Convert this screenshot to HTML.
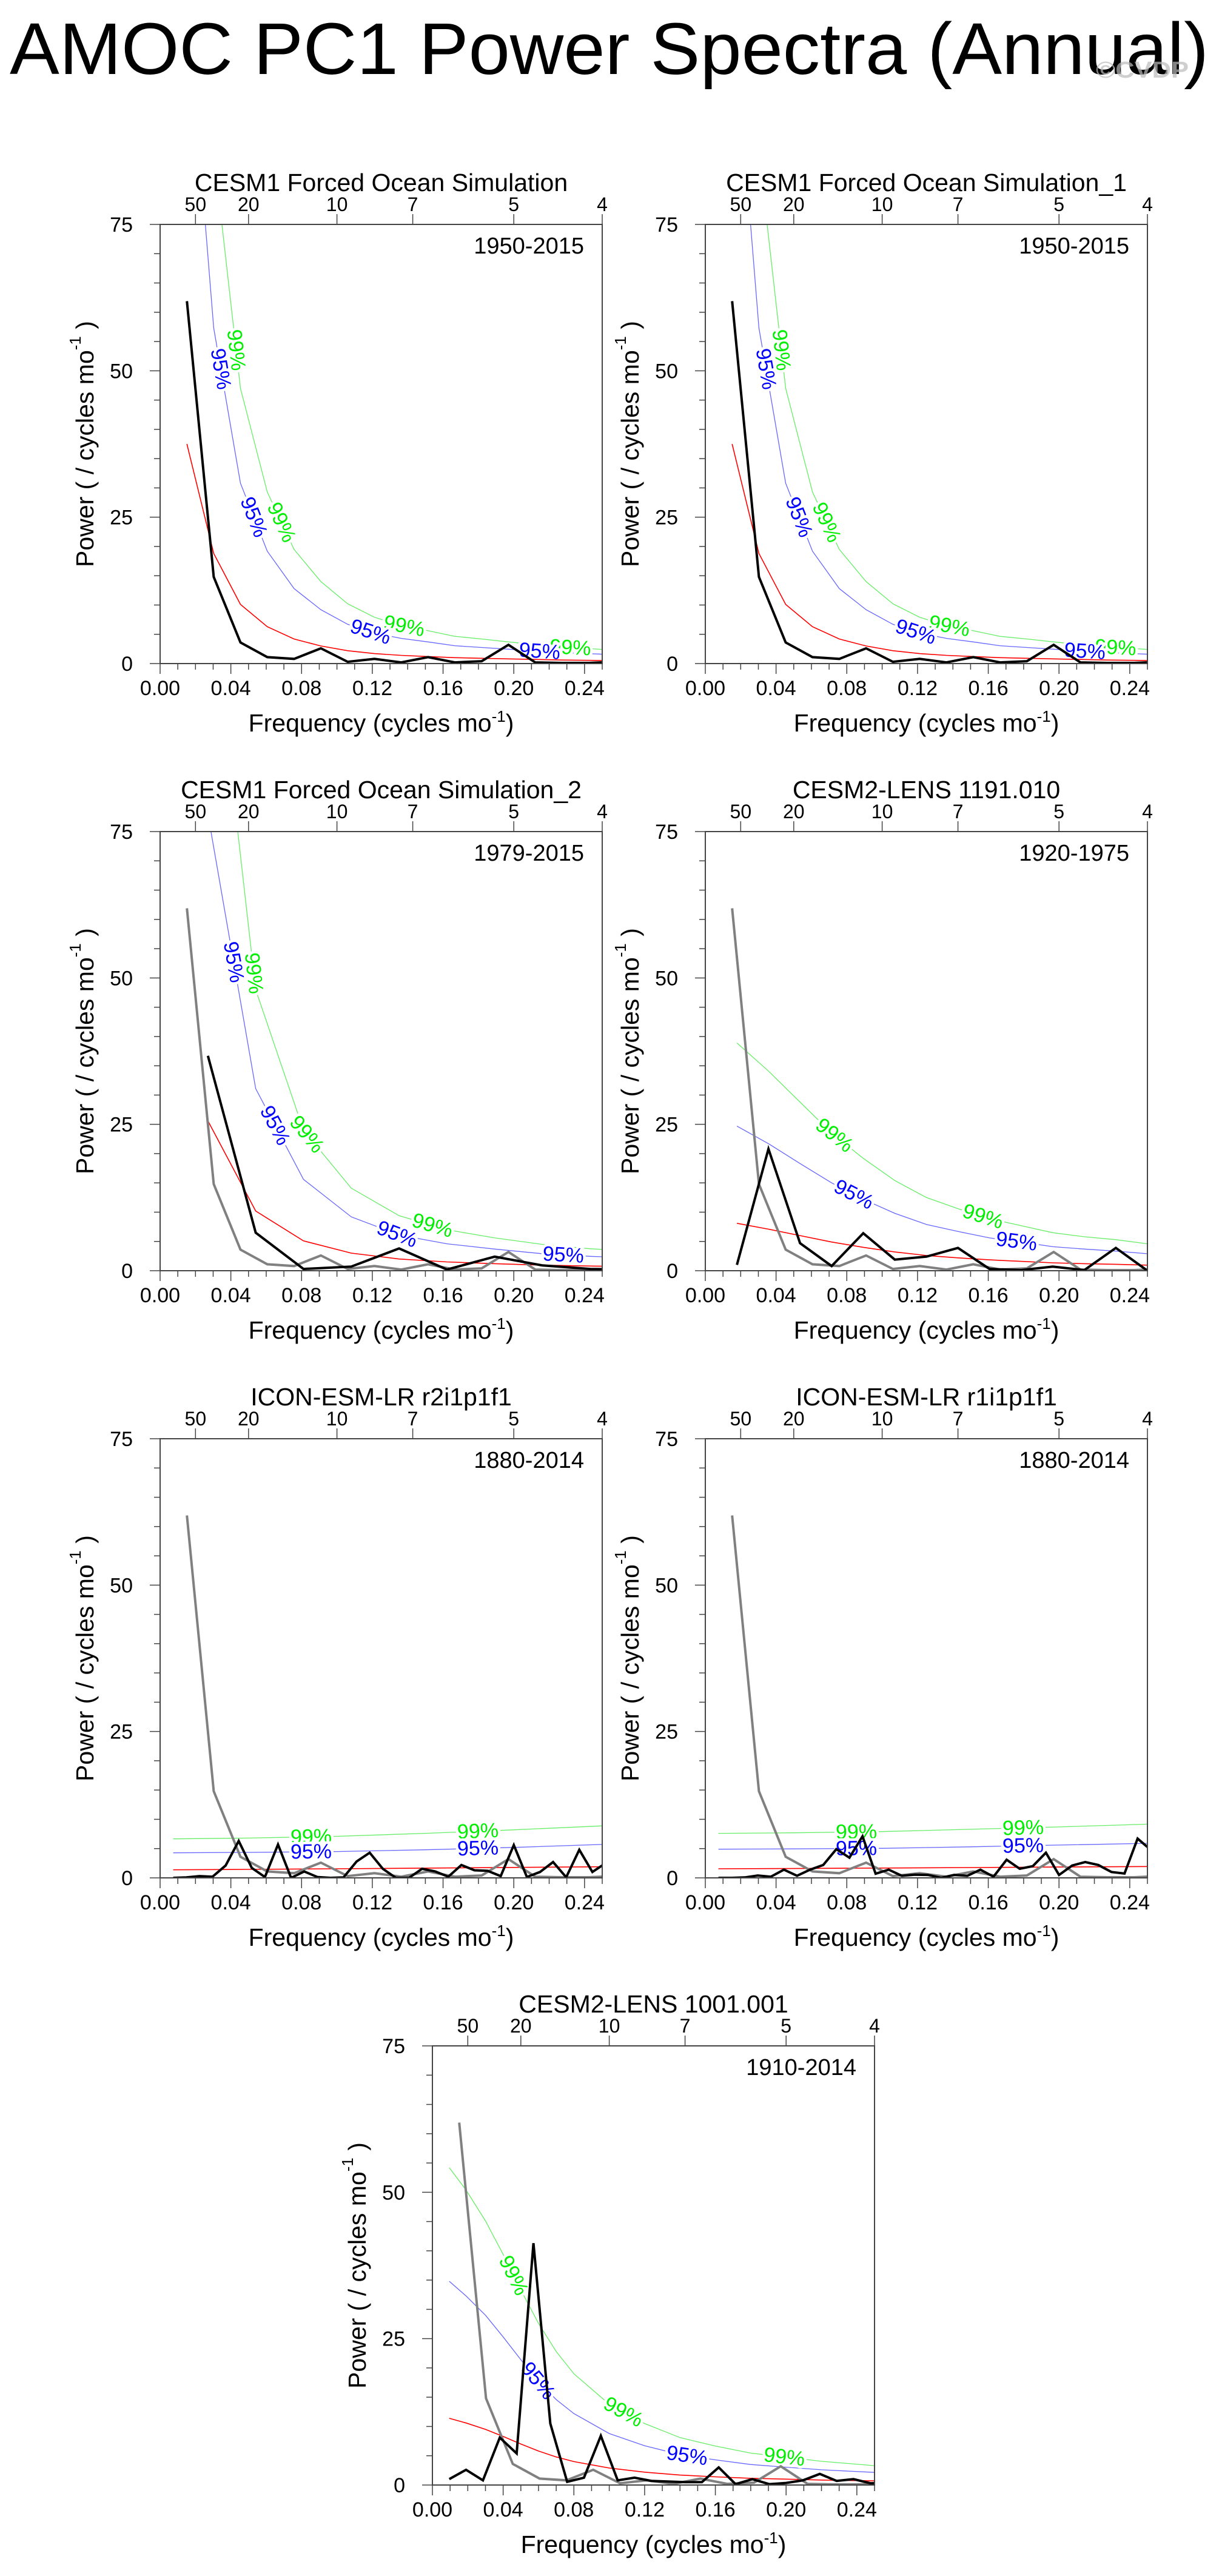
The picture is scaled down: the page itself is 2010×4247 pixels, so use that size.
<!DOCTYPE html>
<html><head><meta charset="utf-8"><title>AMOC PC1 Power Spectra (Annual)</title>
<style>
html,body{margin:0;padding:0;background:#fff;}
svg{display:block;font-family:"Liberation Sans",Arial,sans-serif;}
</style></head>
<body>
<svg id="fig" width="2010" height="4247" viewBox="0 0 2010 4247" xmlns="http://www.w3.org/2000/svg">
<rect x="0" y="0" width="2010" height="4247" fill="#fff"/>
<text x="16" y="122" font-size="121" textLength="1977" lengthAdjust="spacingAndGlyphs" fill="#000">AMOC PC1 Power Spectra (Annual)</text>
<text x="1807" y="128" font-size="38" font-weight="bold" fill="#bbb" fill-opacity="0.7" textLength="153" lengthAdjust="spacingAndGlyphs">©CVDP</text>
</svg>
<script>
// ---------- data ----------
const obsBlack = [61.9,14.8,3.6,1.1,0.8,2.6,0.3,0.8,0.2,1.1,0.2,0.4,3.2,0.2,0.1,0.1,0.3];
const obsRed   = [37.5,18.8,10.1,6.3,4.2,3.0,2.2,1.7,1.4,1.2,1.0,0.9,0.8,0.7,0.6,0.55,0.5];
const obs95    = [114,57.3,30.8,19.2,12.8,9.2,6.7,5.2,4.3,3.7,3.05,2.75,2.45,2.15,1.85,1.7,1.5];
const obs99    = [174,87.4,47,29.3,19.5,14,10.2,7.9,6.5,5.6,4.65,4.2,3.7,3.25,2.8,2.55,2.3];

const p3Black = [36.7,6.5,0.3,0.7,3.8,0.2,2.4,0.9,0.3,0.2];
const p3Red   = [25.6,10.2,5.1,3.0,2.0,1.5,1.2,0.95,0.8,0.7];
const p3Sig95 = [78,31.1,15.6,9.2,6.1,4.6,3.7,2.9,2.45,2.15];
const p3Sig99 = [120,48,24,14.1,9.4,7.0,5.6,4.5,3.75,3.3];

const p4Black = [1.0,20.8,4.7,0.8,6.4,1.9,2.4,3.9,0.3,0.1,0.7,0.1,3.9,0.0];
const p4Red   = [8.1,7.1,6.0,4.9,4.0,3.2,2.6,2.2,1.85,1.6,1.35,1.2,1.1,0.95];
const p4Sig95 = [24.7,21.7,18.3,15,12.2,9.8,7.9,6.7,5.6,4.9,4.1,3.7,3.35,2.9];
const p4Sig99 = [38.9,34.1,28.8,23.5,19.2,15.4,12.5,10.6,8.9,7.7,6.5,5.8,5.3,4.6];

const iconFreq = [0.0074,0.05,0.1,0.15,0.2,0.2593];
const p5Black = [0,0.07,0.3,0.2,2.1,6.3,1.7,0.15,5.7,0,1.1,0.15,0,0.07,2.8,4.3,1.55,0,0,1.55,1.1,0.2,2.2,1.3,1.2,0.3,5.6,0.15,1.0,2.7,0.1,4.8,1.0,2.5];
const p5Red   = [1.38,1.45,1.55,1.67,1.78,1.92];
const p5Sig95 = [4.28,4.35,4.5,4.8,5.2,5.8];
const p5Sig99 = [6.66,6.8,7.1,7.6,8.2,9.0];

const p6Black = [0,0,0.07,0.4,0.2,1.4,0.35,1.4,2.2,4.9,3.45,7.1,0.7,1.4,0.35,0.55,0.5,0,0.5,0.35,1.4,0.2,3.1,1.55,2.0,4.3,0.5,2.1,2.7,2.2,1.0,0.75,6.7,4.8];
const p6Red   = [1.55,1.6,1.68,1.76,1.85,1.95];
const p6Sig95 = [4.9,4.95,5.05,5.3,5.6,5.95];
const p6Sig99 = [7.6,7.7,7.9,8.3,8.7,9.25];

const p7Black = [1.0,2.6,0.8,8.1,5.4,41.3,10.5,0.55,1.25,8.4,0.8,1.25,0.7,0.6,0.5,0.5,3.0,0.15,1.0,0.15,0.35,0.8,1.9,0.7,1.0,0.3,0.35];
const p7Freq  = [0.00952,0.019,0.03,0.04,0.05,0.06,0.07,0.08,0.10,0.12,0.14,0.16,0.18,0.20,0.22,0.25];
const p7Red   = [11.4,10.6,9.5,8.3,7.0,5.8,4.8,4.0,2.9,2.2,1.7,1.4,1.15,1.0,0.85,0.7];
const p7Sig95 = [34.8,32.3,29,25.3,21.4,17.7,14.6,12.2,8.8,6.7,5.2,4.3,3.5,3.05,2.6,2.15];
const p7Sig99 = [54.2,50.4,45.1,39.4,33.3,27.6,22.8,19,13.8,10.5,8.1,6.65,5.45,4.75,4.05,3.3];

const yTicks = [0,25,50,75];
const xTicks = [0,0.04,0.08,0.12,0.16,0.20,0.24];
const xTickLabels = ["0.00","0.04","0.08","0.12","0.16","0.20","0.24"];
const periodTicks = [50,20,10,7,5,4];

// ---------- drawing ----------
const NS = "http://www.w3.org/2000/svg";
const svg = document.getElementById('fig');
const W = 729, H = 724, XMAX = 0.25, YMAX = 75;
function mk(tag, attrs, parent){
  const e = document.createElementNS(NS, tag);
  for (const k in attrs) e.setAttribute(k, attrs[k]);
  (parent||svg).appendChild(e);
  return e;
}
function harm(n, count){ const a=[]; for(let k=1;k<=count;k++) a.push(k/n); return a; }

let clipId = 0;
function panel(cfg){
  const x0=cfg.x, y0=cfg.y;
  const sx = f => x0 + f/XMAX*W;
  const sy = v => y0 + H - v/YMAX*H;
  const g = mk('g', {});
  
  
  const cid = 'clip'+(clipId++);
  const cp = mk('clipPath', {id:cid}, g);
  mk('rect', {x:x0, y:y0, width:W, height:H}, cp);
  const plotG = mk('g', {'clip-path':'url(#'+cid+')'}, g);

  function line(fs, vs, stroke, width, nm){
    const pts = fs.map((f,i)=>sx(f).toFixed(1)+','+sy(vs[i]).toFixed(1)).join(' ');
    const p = mk('polyline', {points:pts, fill:'none', stroke:stroke, 'stroke-width':width, 'stroke-linejoin':'miter'}, plotG);
    
    
    return p;
  }
  function labels(fs, vs, freqs, text, color, nm){
    freqs.forEach(fl=>{
      let i=0; while(i<fs.length-2 && fs[i+1]<fl) i++;
      const xa=sx(fs[i]), ya=sy(vs[i]), xb=sx(fs[i+1]), yb=sy(vs[i+1]);
      const t=(sx(fl)-xa)/(xb-xa);
      const px=xa+t*(xb-xa), py=ya+t*(yb-ya);
      const ang=Math.atan2(yb-ya, xb-xa)*180/Math.PI;
      const tx = mk('text', {x:px, y:py, 'font-size':34, fill:color, 'text-anchor':'middle', 'dominant-baseline':'central',
        transform:'rotate('+ang.toFixed(1)+' '+px.toFixed(1)+' '+py.toFixed(1)+')',
        stroke:'#fff', 'stroke-width':9, 'paint-order':'stroke'}, plotG);
      
      
      tx.textContent = text;
    });
  }
  line(cfg.sigF, cfg.s99, '#66ee66', 1.3, 'sig99-curve');
  line(cfg.sigF, cfg.s95, '#6666ff', 1.3, 'sig95-curve');
  labels(cfg.sigF, cfg.s99, cfg.l99, '99%', '#00ee00', 'sig99-label');
  labels(cfg.sigF, cfg.s95, cfg.l95, '95%', '#0000ff', 'sig95-label');
  line(cfg.sigF, cfg.red, '#ff0000', 1.6, 'red-noise-curve');
  if (cfg.gray) line(harm(66, obsBlack.length), obsBlack, '#808080', 4, 'reference-spectrum-line');
  line(cfg.bf, cfg.black, '#000', 4, 'power-spectrum-line');

  // frame
  const fr = mk('rect', {x:x0, y:y0, width:W, height:H, fill:'none', stroke:'#444', 'stroke-width':2}, g);
  
  
  // y ticks
  for (let v=0; v<=75; v+=5){
    const major = yTicks.includes(v);
    mk('line', {x1:x0-(major?17:10), x2:x0, y1:sy(v), y2:sy(v), stroke:'#444', 'stroke-width':1.5}, g);
  }
  yTicks.forEach(v=>{
    const t = mk('text', {x:x0-45, y:sy(v)+12, 'font-size':34, 'text-anchor':'end'}, g);
    
    
    t.textContent = v;
  });
  // x ticks
  for (let k=0; k<=25; k++){
    const f=k/100, major=(k%4===0);
    mk('line', {x1:sx(f), x2:sx(f), y1:y0+H, y2:y0+H+(major?17:10), stroke:'#444', 'stroke-width':1.5}, g);
  }
  xTicks.forEach((f,i)=>{
    const t = mk('text', {x:sx(f), y:y0+H+52, 'font-size':34, 'text-anchor':'middle'}, g);
    
    
    t.textContent = xTickLabels[i];
  });
  // top period ticks
  periodTicks.forEach(p=>{
    mk('line', {x1:sx(1/p), x2:sx(1/p), y1:y0, y2:y0-17, stroke:'#444', 'stroke-width':1.5}, g);
    const t = mk('text', {x:sx(1/p), y:y0-22, 'font-size':32, 'text-anchor':'middle'}, g);
    
    
    t.textContent = p;
  });
  // titles
  const st = mk('text', {x:x0+W/2, y:y0-55, 'font-size':41, 'text-anchor':'middle'}, g);
  
  
  st.textContent = cfg.title;
  const yr = mk('text', {x:x0+W-30, y:y0+48, 'font-size':38, 'text-anchor':'end'}, g);
  
  
  yr.textContent = cfg.years;
  const xt = mk('text', {x:x0+W/2, y:y0+H+112, 'font-size':41, 'text-anchor':'middle'}, g);
  
  
  xt.innerHTML = 'Frequency (cycles mo<tspan dy="-16" font-size="26">-1</tspan><tspan dy="16">)</tspan>';
  const cx=x0-124, cy=y0+H/2;
  const yt = mk('text', {x:cx, y:cy, 'font-size':41, 'text-anchor':'middle', 'dominant-baseline':'central', transform:'rotate(-90 '+cx+' '+cy+')'}, g);
  
  
  yt.innerHTML = 'Power ( / cycles mo<tspan dy="-16" font-size="26">-1</tspan><tspan dy="16"> )</tspan>';
}

const f66 = harm(66, obsBlack.length);
panel({name:'panel-cesm1-forced', x:264, y:370, title:'CESM1 Forced Ocean Simulation', years:'1950-2015',
  bf:f66, black:obsBlack, gray:false, sigF:f66, red:obsRed, s95:obs95, s99:obs99,
  l95:[0.0343,0.053,0.119,0.2146], l99:[0.043,0.0686,0.138,0.232]});
panel({name:'panel-cesm1-forced-1', x:1163, y:370, title:'CESM1 Forced Ocean Simulation_1', years:'1950-2015',
  bf:f66, black:obsBlack, gray:false, sigF:f66, red:obsRed, s95:obs95, s99:obs99,
  l95:[0.0343,0.053,0.119,0.2146], l99:[0.043,0.0686,0.138,0.232]});
const f37 = harm(37, p3Black.length);
panel({name:'panel-cesm1-forced-2', x:264, y:1371, title:'CESM1 Forced Ocean Simulation_2', years:'1979-2015',
  bf:f37, black:p3Black, gray:true, sigF:f37, red:p3Red, s95:p3Sig95, s99:p3Sig99,
  l95:[0.0416,0.065,0.134,0.228], l99:[0.053,0.083,0.154]});
const f56 = harm(56, p4Black.length);
panel({name:'panel-cesm2-lens-1191', x:1163, y:1371, title:'CESM2-LENS 1191.010', years:'1920-1975',
  bf:f56, black:p4Black, gray:true, sigF:f56, red:p4Red, s95:p4Sig95, s99:p4Sig99,
  l95:[0.084,0.176], l99:[0.073,0.157]});
const f135 = harm(135, p5Black.length);
panel({name:'panel-icon-r2i1p1f1', x:264, y:2372, title:'ICON-ESM-LR r2i1p1f1', years:'1880-2014',
  bf:f135, black:p5Black, gray:true, sigF:iconFreq, red:p5Red, s95:p5Sig95, s99:p5Sig99,
  l95:[0.0854,0.1797], l99:[0.0854,0.1797]});
panel({name:'panel-icon-r1i1p1f1', x:1163, y:2372, title:'ICON-ESM-LR r1i1p1f1', years:'1880-2014',
  bf:f135, black:p6Black, gray:true, sigF:iconFreq, red:p6Red, s95:p6Sig95, s99:p6Sig99,
  l95:[0.0854,0.1797], l99:[0.0854,0.1797]});
const f105 = harm(105, p7Black.length);
panel({name:'panel-cesm2-lens-1001', x:713, y:3373, title:'CESM2-LENS 1001.001', years:'1910-2014',
  bf:f105, black:p7Black, gray:true, sigF:p7Freq, red:p7Red, s95:p7Sig95, s99:p7Sig99,
  l95:[0.0597,0.144], l99:[0.0459,0.108,0.199]});
</script>
</body></html>
